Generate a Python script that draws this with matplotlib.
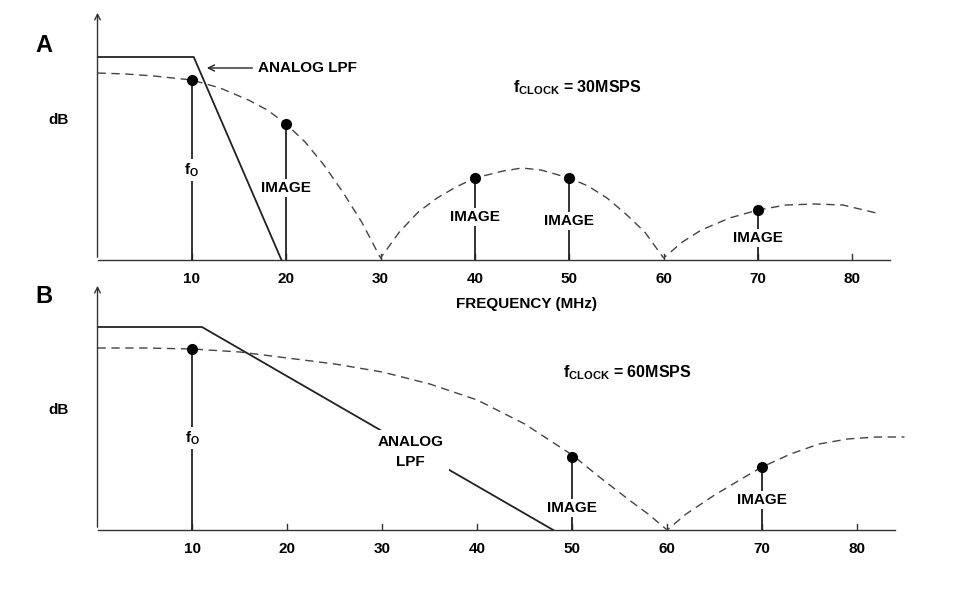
import matplotlib
matplotlib.use("Agg")
import matplotlib.pyplot as plt

plt.rcParams['font.family'] = ['Liberation Sans', 'DejaVu Sans']

ticks = [10, 20, 30, 40, 50, 60, 70, 80]

# Panel A (heights in arbitrary dB-like units)
a_curve_f = [0, 3, 6, 10, 13, 16, 18, 20, 22, 24, 26, 28, 30, 32, 34, 36, 38, 40, 43, 45, 47, 50,
             52, 54, 56, 58, 60, 62, 64, 67, 70, 73, 76, 79, 83]
a_curve_v = [187, 186, 184, 180, 172, 160, 150, 136, 118, 95, 68, 38, 2, 28, 48, 62, 73, 82, 89, 92, 90, 82,
             74, 62, 46, 28, 2, 18, 30, 42, 50, 55, 56, 55, 46]
a_lpf_f = [0, 10.2, 19.5]
a_lpf_v = [203, 203, 0]
a_dot_f = [10, 20, 40, 50, 70]
a_dot_v = [180, 136, 82, 82, 50]
a_labels = ["f$_\\mathregular{O}$", "IMAGE", "IMAGE", "IMAGE", "IMAGE"]
a_label_v = [90, 72, 43, 39, 22]

# Panel B
b_curve_f = [0, 5, 10, 15, 20, 25, 30, 35, 40, 45, 50, 53, 56, 58, 60, 62, 65, 68, 70, 73, 76, 79, 82, 85]
b_curve_v = [182, 182, 181, 178, 172, 166, 158, 146, 130, 106, 75, 52, 30, 16, 0, 16, 35, 52, 63, 76, 86, 91, 93, 93]
b_lpf_f = [0, 11, 48]
b_lpf_v = [203, 203, 0]
b_dot_f = [10, 50, 70]
b_dot_v = [181, 73, 63]
b_labels = ["f$_\\mathregular{O}$", "IMAGE", "IMAGE"]
b_label_v = [92, 22, 30]

W, H = 962, 590
fig = plt.figure(figsize=(W/100, H/100), dpi=100)
FS = 11
FW = 'bold'

def make_ax(left, right, base, top):
    ax = fig.add_axes([left/W, 1-base/H, (right-left)/W, (base-top)/H])
    ax.set_xlim(0, 84)
    ax.set_ylim(0, base-top)
    ax.axis('off')
    ax.annotate('', xy=(0, base-top), xytext=(0, 0),
                arrowprops=dict(arrowstyle='->', lw=1.0, color='#333'), annotation_clip=False)
    ax.plot([0, 84], [0, 0], color='#333', lw=1.0, clip_on=False)
    for t in ticks:
        ax.plot([t, t], [0, 6], color='#333', lw=1.0)
    return ax

def draw(ax, cf, cv, lf, lv, df, dv, labs, labv):
    ax.plot(cf, cv, ls=(0, (6, 4)), color='#444', lw=1.0, clip_on=False)
    ax.plot(lf, lv, color='#222', lw=1.3)
    for f, v, lab, lv_ in zip(df, dv, labs, labv):
        ax.plot([f, f], [0, v], color='#222', lw=1.3)
        ax.text(f, lv_, lab, ha='center', va='center', fontsize=FS, fontweight=FW,
                bbox=dict(facecolor='white', edgecolor='none', pad=1.5))
        ax.plot(f, v, 'o', color='black', ms=7)
    for t in ticks:
        ax.text(t, -12, str(t), ha='center', va='top', fontsize=FS, fontweight=FW)

axA = make_ax(97.5, 890, 260, 10)
draw(axA, a_curve_f, a_curve_v, a_lpf_f, a_lpf_v, a_dot_f, a_dot_v, a_labels, a_label_v)
axA.annotate('ANALOG LPF', xy=(11.3, 192), xytext=(17, 192), fontsize=FS, fontweight=FW, va='center',
             arrowprops=dict(arrowstyle='->', lw=1.0, color='#222'))
axA.text(44, 172, 'f$_\\mathregular{CLOCK}$ = 30MSPS', fontsize=FS+0.5, fontweight=FW, va='center')

axB = make_ax(97.5, 895, 530, 283)
draw(axB, b_curve_f, b_curve_v, b_lpf_f, b_lpf_v, b_dot_f, b_dot_v, b_labels, b_label_v)
axB.text(33, 78, 'ANALOG\nLPF', ha='center', va='center', fontsize=FS, fontweight=FW, linespacing=1.5,
         bbox=dict(facecolor='white', edgecolor='none', pad=4))
axB.text(49, 157, 'f$_\\mathregular{CLOCK}$ = 60MSPS', fontsize=FS+0.5, fontweight=FW, va='center')

fig.text(35/W, 1-45/H, 'A', fontsize=17, fontweight=FW, ha='left', va='center')
fig.text(35/W, 1-297/H, 'B', fontsize=17, fontweight=FW, ha='left', va='center')
fig.text(48/W, 1-120/H, 'dB', fontsize=FS, fontweight=FW, ha='left', va='center')
fig.text(48/W, 1-410/H, 'dB', fontsize=FS, fontweight=FW, ha='left', va='center')
fig.text(527/W, 1-304/H, 'FREQUENCY (MHz)', fontsize=FS, fontweight=FW, ha='center', va='center')

fig.savefig('out.png', dpi=100, facecolor='white')
